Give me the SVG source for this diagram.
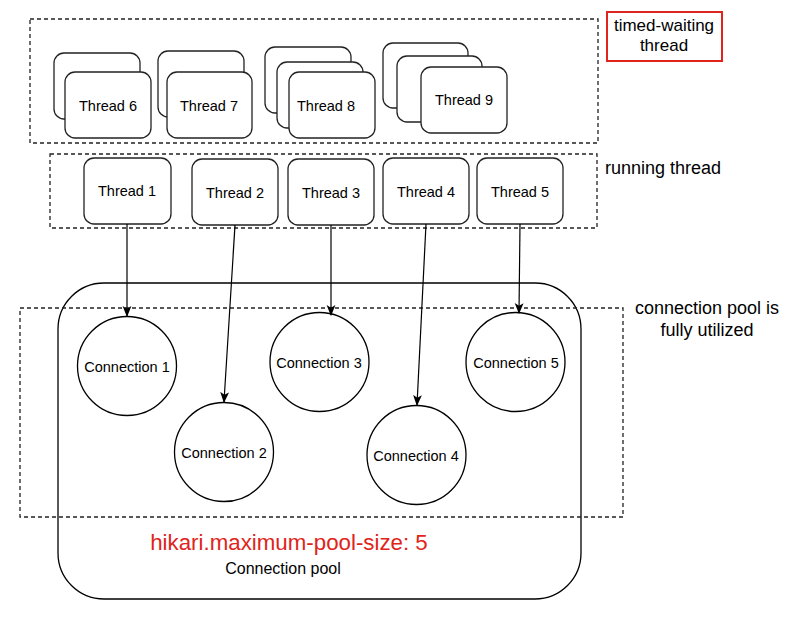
<svg xmlns="http://www.w3.org/2000/svg" width="800" height="619" viewBox="0 0 800 619">
<defs>
<style>
.dash{fill:none;stroke:#222;stroke-width:1.3;stroke-dasharray:4 3}
.th{fill:#fff;stroke:#222;stroke-width:1.3}
.cn{fill:#fff;stroke:#000;stroke-width:1.3}
.t{font-family:"Liberation Sans",Arial,sans-serif;fill:#000;text-anchor:middle}
.s14{font-size:14.5px}
.s17{font-size:17px}
.s18{font-size:18px}
.edge{fill:none;stroke:#000;stroke-width:1.2}
</style>
<marker id="arr" viewBox="0 0 10 10" refX="9" refY="5" markerWidth="11" markerHeight="11" markerUnits="userSpaceOnUse" orient="auto">
<path d="M0,1 L10,5 L0,9 L2.5,5 Z" fill="#000"/>
</marker>
</defs>
<rect width="800" height="619" fill="#fff"/>

<g id="waiting-area">
<rect class="dash" x="30" y="19" width="568" height="124"/>
</g>
<g id="label-timed-waiting">
<rect x="607" y="12" width="115" height="49" fill="#fff" stroke="#e0241b" stroke-width="2"/>
<text class="t s17" x="664" y="31">timed-waiting</text>
<text class="t s17" x="664" y="51">thread</text>
</g>

<g id="thread6">
<rect class="th" x="54" y="53" width="86" height="66" rx="10"/>
<rect class="th" x="65" y="72" width="86" height="66" rx="10"/>
<text class="t s14" x="108" y="111">Thread 6</text>
</g>
<g id="thread7">
<rect class="th" x="158" y="51" width="86" height="66" rx="10"/>
<rect class="th" x="167" y="72" width="85" height="66" rx="10"/>
<text class="t s14" x="209" y="111">Thread 7</text>
</g>
<g id="thread8">
<rect class="th" x="265" y="47" width="86" height="66" rx="10"/>
<rect class="th" x="277" y="62" width="86" height="66" rx="10"/>
<rect class="th" x="289" y="72" width="86" height="66" rx="10"/>
<text class="t s14" x="326" y="111">Thread 8</text>
</g>
<g id="thread9">
<rect class="th" x="383" y="43" width="85" height="65" rx="10"/>
<rect class="th" x="397" y="56" width="85" height="66" rx="10"/>
<rect class="th" x="421" y="67" width="86" height="66" rx="10"/>
<text class="t s14" x="464" y="105">Thread 9</text>
</g>

<g id="running-area">
<rect class="dash" x="50" y="154" width="547" height="74"/>
<text class="t s18" x="663" y="174">running thread</text>
</g>

<g id="thread1">
<rect class="th" x="84" y="158" width="87" height="66" rx="10"/>
<text class="t s14" x="127" y="196">Thread 1</text>
</g>
<g id="thread2">
<rect class="th" x="192" y="159" width="86" height="66" rx="10"/>
<text class="t s14" x="235" y="198">Thread 2</text>
</g>
<g id="thread3">
<rect class="th" x="288" y="159" width="86" height="66" rx="10"/>
<text class="t s14" x="331" y="198">Thread 3</text>
</g>
<g id="thread4">
<rect class="th" x="383" y="158" width="86" height="66" rx="10"/>
<text class="t s14" x="426" y="197">Thread 4</text>
</g>
<g id="thread5">
<rect class="th" x="477" y="158" width="86" height="66" rx="10"/>
<text class="t s14" x="520" y="197">Thread 5</text>
</g>

<g id="connection-pool">
<rect x="58" y="283" width="523" height="316" rx="46" fill="none" stroke="#000" stroke-width="1.3"/>
<text class="t" x="289" y="550" font-size="22.3" style="fill:#e0241b">hikari.maximum-pool-size: 5</text>
<text class="t" x="283" y="574" font-size="16">Connection pool</text>
</g>

<g id="utilized-area">
<rect class="dash" x="20" y="308" width="603" height="209"/>
<text class="t s18" x="707" y="314">connection pool is</text>
<text class="t s18" x="707" y="336">fully utilized</text>
</g>

<g id="conn1">
<circle class="cn" cx="127" cy="366" r="49.5"/>
<text class="t s14" x="127" y="372">Connection 1</text>
</g>
<g id="conn2">
<circle class="cn" cx="224" cy="452" r="49.5"/>
<text class="t s14" x="224" y="458">Connection 2</text>
</g>
<g id="conn3">
<circle class="cn" cx="319.5" cy="362" r="49.5"/>
<text class="t s14" x="319" y="368">Connection 3</text>
</g>
<g id="conn4">
<circle class="cn" cx="416.5" cy="455" r="49.5"/>
<text class="t s14" x="416" y="461">Connection 4</text>
</g>
<g id="conn5">
<circle class="cn" cx="515.5" cy="362" r="49.5"/>
<text class="t s14" x="516" y="368">Connection 5</text>
</g>

<g id="connectors">
<line class="edge" x1="127" y1="224" x2="127" y2="316" marker-end="url(#arr)"/>
<line class="edge" x1="235" y1="225" x2="224" y2="402" marker-end="url(#arr)"/>
<line class="edge" x1="331" y1="225" x2="331" y2="315" marker-end="url(#arr)"/>
<line class="edge" x1="426" y1="224" x2="417" y2="405" marker-end="url(#arr)"/>
<line class="edge" x1="520" y1="224" x2="519" y2="313" marker-end="url(#arr)"/>
</g>
</svg>
